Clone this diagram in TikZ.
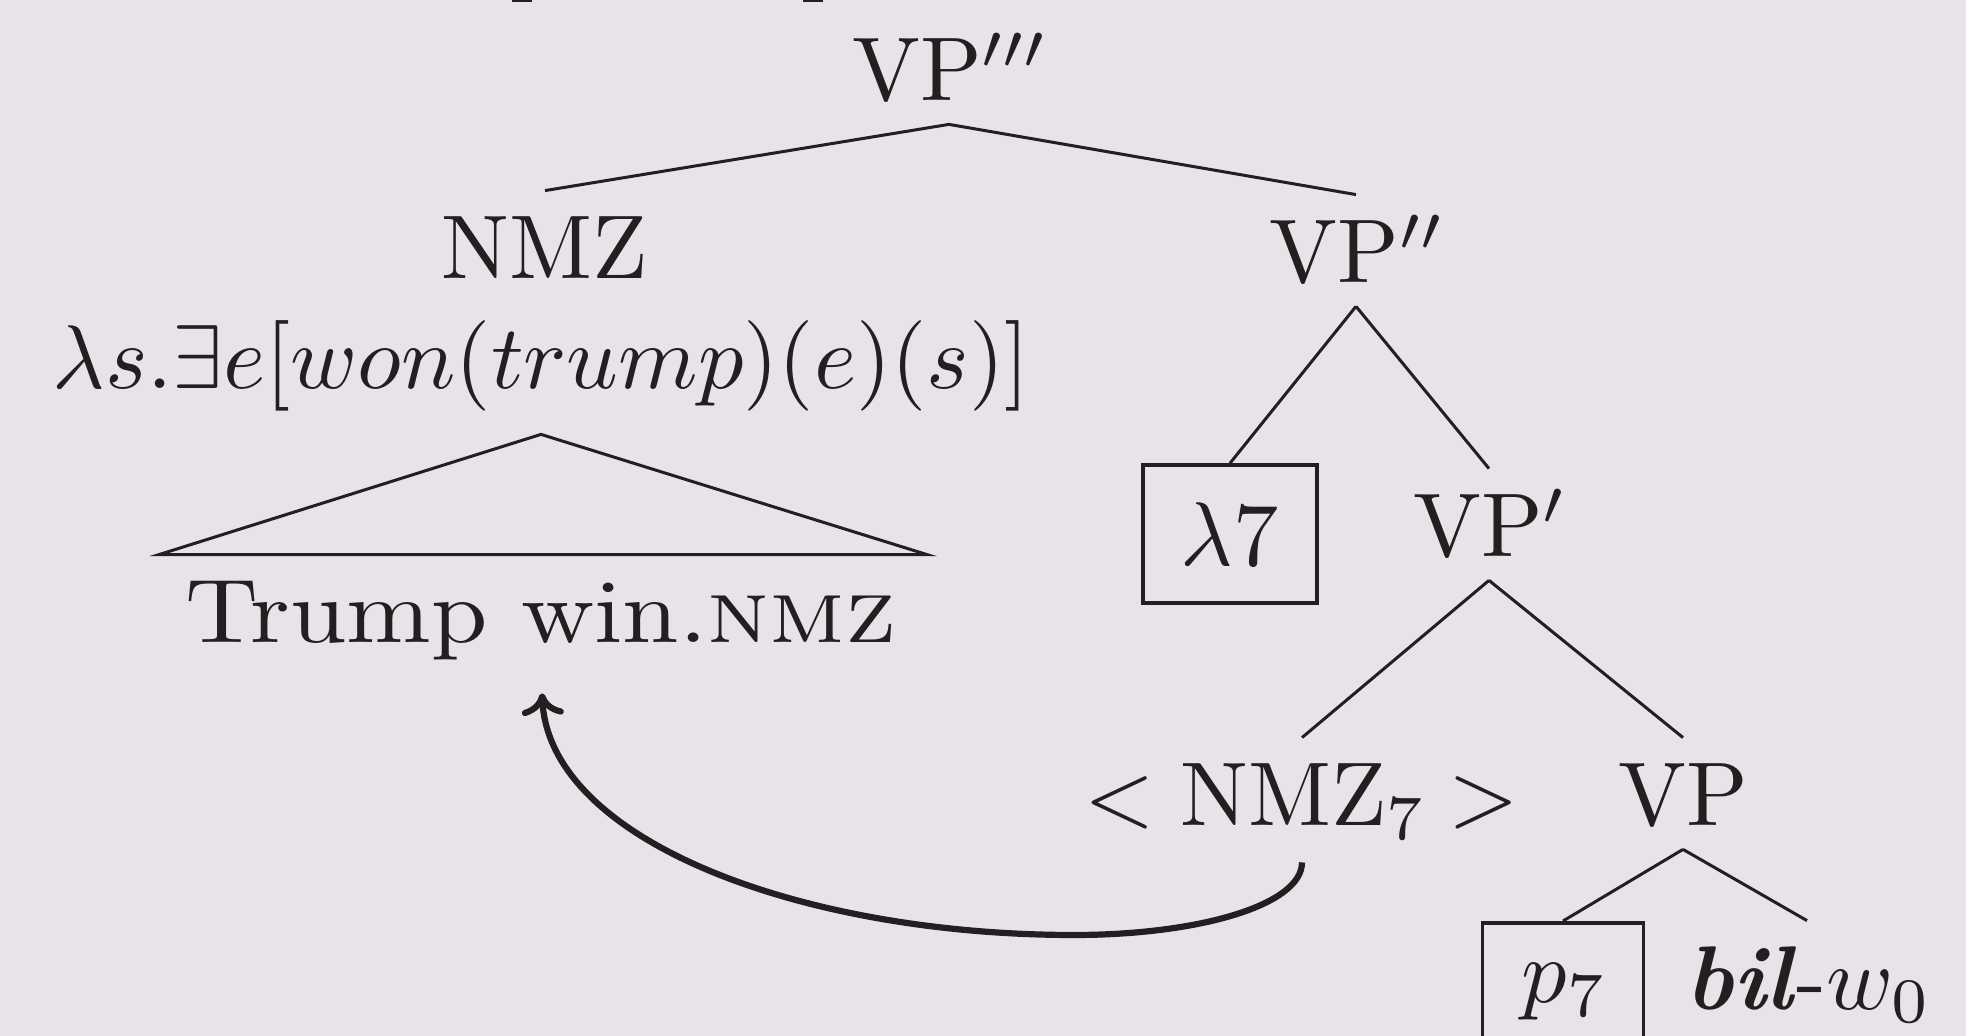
\documentclass[tikz,border=0pt]{standalone}
\usepackage[no-math]{fontspec}
\setmainfont{lmroman10-regular.otf}[BoldFont=lmroman10-bold.otf, ItalicFont=lmroman10-italic.otf, BoldItalicFont=lmroman10-bolditalic.otf, SmallCapsFont=lmromancaps10-regular.otf]
\DeclareFontShape{OML}{cmm}{m}{it}{<-35> cmmi7 <35-> cmmi10}{\skewchar\font=127}
\DeclareFontShape{OT1}{cmr}{m}{n}{<-35> cmr7 <35-> cmr10}{}
\DeclareFontShape{OMS}{cmsy}{m}{n}{<-35> cmsy7 <35-> cmsy10}{\skewchar\font=48}
\usetikzlibrary{arrows.meta}
\definecolor{bgc}{RGB}{231,227,232}
\definecolor{ink}{RGB}{35,31,32}
\tikzset{
  tn/.style={inner xsep=0pt, inner ysep=0pt, text height=44pt, text depth=11.5pt, anchor=base},
  sembox/.style={inner xsep=0pt, inner ysep=0pt, text depth=22.5pt, anchor=base},
  boxnode/.style={draw=ink, line width=1.8pt, inner sep=0pt, minimum height=69pt},
  edge/.style={draw=ink, line width=1.5pt},
  arr/.style={draw=ink, line width=3.1pt, -{Computer Modern Rightarrow[length=11pt,width=21pt]}}
}
\begin{document}
\begin{tikzpicture}[x=0.5pt,y=-0.5pt, every node/.style={text=ink, font=\fontsize{45.25}{54}\selectfont}]
\useasboundingbox (0,0) rectangle (1966,1036);
\fill[bgc] (0,0) rectangle (1966,1036);
% cut-off fragments at the top edge
\fill[ink] (512,0) rectangle (532,2.5);
\fill[ink] (803,0) rectangle (823,2.5);

\node[tn] (vp3) at (949,101) {VP$'''$};
\node[tn] (nmz) at (545,279) {NMZ};
\node[sembox] (sem) at (541,389) {$\lambda s.\exists e[won(trump)(e)(s)]$};
\node[tn] (trump) at (541,643) {\addfontfeatures{FakeStretch=1.12}Trump win.\textsc{nmz}};
\node[tn] (vp2) at (1356,283) {VP$''$};
\node[boxnode, minimum width=87pt] (lam) at (1230,534) {$\lambda 7$};
\node[tn] (vp1) at (1489,557) {VP$'$};
\node[tn] (nmz7) at (1302,826) {$<\mathrm{NMZ}_7>$};
\node[tn] (vp) at (1683,826) {VP};
\node[boxnode, minimum width=80.5pt, anchor=north] (p7) at (1563,921) {$p_7$};
\node[tn] (bil) at (1807,1009) {\textbf{\textit{bil}}-$w_0$};

\draw[edge] (vp3.south) -- (nmz.north);
\draw[edge] (vp3.south) -- (vp2.north);
\draw[edge] (vp2.south) -- (lam.north);
\draw[edge] (vp2.south) -- (vp1.north);
\draw[edge] (vp1.south) -- (nmz7.north);
\draw[edge] (vp1.south) -- (vp.north);
\draw[edge] (vp.south) -- (p7.north);
\draw[edge] (vp.south) -- (bil.north);
\draw[edge, line join=miter] (sem.south) -- ([xshift=-191pt]trump.north) -- ([xshift=193pt]trump.north) -- cycle;

\coordinate (arrlow) at (1074,935);
\draw[arr, shorten <=6.5pt, shorten >=13.5pt] (nmz7.south) .. controls (1302,905) and (1199,935) .. (arrlow)
  .. controls (800,935) and (548,840) .. (trump.south);
\end{tikzpicture}
\end{document}
